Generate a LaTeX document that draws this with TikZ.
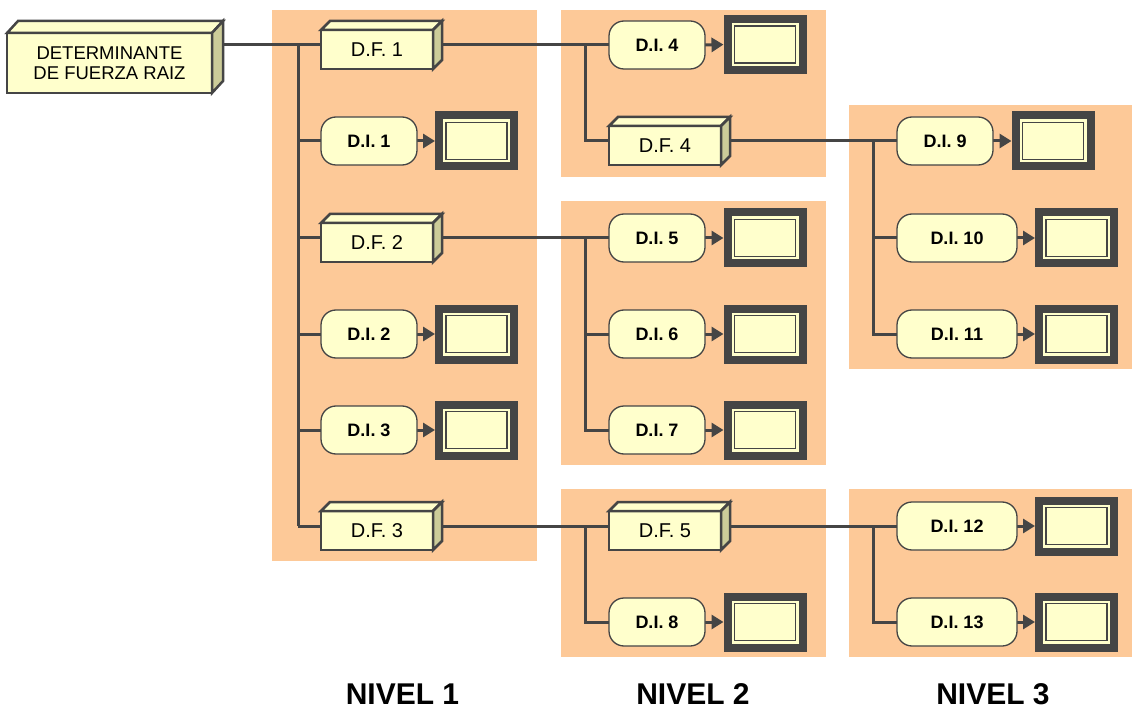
\documentclass[tikz,border=0pt]{standalone}
\usepackage{fontspec}
\setmainfont{Liberation Sans}
\usetikzlibrary{arrows.meta}
\definecolor{panel}{HTML}{FDC998}
\definecolor{nodefill}{HTML}{FFFFCC}
\definecolor{sidefill}{HTML}{CCCC99}
\definecolor{linec}{HTML}{454545}
\pgfdeclarelayer{panels}
\pgfdeclarelayer{lines}
\pgfsetlayers{panels,lines,main}
\newcommand\dfaces[3]{%
  \draw[facest, fill=nodefill] (#1.north west) -- ++(#2,-#3) -- ([shift={(#2,-#3)}]#1.north east) -- (#1.north east) -- cycle;
  \draw[facest, fill=sidefill] (#1.north east) -- ++(#2,-#3) -- ([shift={(#2,-#3)}]#1.south east) -- (#1.south east) -- cycle;}
\newcommand\outbox[2]{% name, position
  \node[obox] (#1) at #2 {};
  \draw[linec, line width=1.5pt] ([shift={(7,7)}]#1.north west) rectangle ([shift={(-7,-7)}]#1.south east);}
\begin{document}
\begin{tikzpicture}[x=1pt,y=-1pt,
  every node/.style={outer sep=0pt, inner sep=0pt},
  panelbox/.style={fill=panel, draw=none},
  facest/.style={draw=linec, line width=2.5pt, line join=miter},
  fbox/.style={draw=linec, line width=2.5pt, fill=nodefill, minimum width=112pt, minimum height=39pt, font=\fontsize{20}{22}\selectfont},
  rbox/.style={draw=linec, line width=2.5pt, fill=nodefill, minimum width=205pt, minimum height=60pt, align=center, font=\fontsize{18.5}{20}\selectfont},
  ibox/.style={draw=linec, line width=1.3pt, fill=nodefill, rounded corners=15pt, minimum width=96pt, minimum height=48pt, font=\bfseries\fontsize{18}{20}\selectfont},
  iwide/.style={ibox, minimum width=120pt},
  obox/.style={draw=linec, line width=8pt, fill=nodefill, minimum width=75pt, minimum height=51pt},
  conn/.style={draw=linec, line width=3pt},
  arr/.style={conn, -{Triangle[length=12pt,width=14pt]}, shorten >=4pt},
  lvl/.style={font=\bfseries\fontsize{30}{32}\selectfont},
]
\useasboundingbox (0,0) rectangle (1132,711);
% panels
\begin{pgfonlayer}{panels}
\fill[panelbox] (272,10) rectangle (537,561);
\fill[panelbox] (561,10) rectangle (826,177);
\fill[panelbox] (561,201) rectangle (826,465);
\fill[panelbox] (561,489) rectangle (826,657);
\fill[panelbox] (849,105) rectangle (1132,369);
\fill[panelbox] (849,489) rectangle (1132,657);
\end{pgfonlayer}
% root
\node[rbox] (root) at (109.5,63) {DETERMINANTE\\DE FUERZA RAIZ};
\dfaces{root}{11}{12}
% D.F. boxes
\node[fbox] (df1) at (377,49.5) {D.F. 1};
\node[fbox] (df2) at (377,242.5) {D.F. 2};
\node[fbox] (df3) at (377,530.5) {D.F. 3};
\node[fbox] (df4) at (665,145.5) {D.F. 4};
\node[fbox] (df5) at (665,530.5) {D.F. 5};
\foreach \n in {df1,df2,df3,df4,df5} {\dfaces{\n}{9}{9}}
% D.I. nodes
\node[ibox] (di1) at (369,141) {D.I. 1};
\node[ibox] (di2) at (369,334) {D.I. 2};
\node[ibox] (di3) at (369,430) {D.I. 3};
\node[ibox] (di4) at (657,45) {D.I. 4};
\node[ibox] (di5) at (657,238) {D.I. 5};
\node[ibox] (di6) at (657,334) {D.I. 6};
\node[ibox] (di7) at (657,430) {D.I. 7};
\node[ibox] (di8) at (657,622) {D.I. 8};
\node[ibox] (di9) at (945,141) {D.I. 9};
\node[iwide] (di10) at (957,238) {D.I. 10};
\node[iwide] (di11) at (957,334) {D.I. 11};
\node[iwide] (di12) at (957,526) {D.I. 12};
\node[iwide] (di13) at (957,622) {D.I. 13};
% output boxes
\outbox{o1}{(476.5,141)}
\outbox{o2}{(476.5,334)}
\outbox{o3}{(476.5,430)}
\outbox{o4}{(765,44.5)}
\outbox{o5}{(765,238)}
\outbox{o6}{(765,334)}
\outbox{o7}{(765,430)}
\outbox{o8}{(765,622)}
\outbox{o9}{(1053,141)}
\outbox{o10}{(1076.5,238)}
\outbox{o11}{(1076.5,334)}
\outbox{o12}{(1076.5,526)}
\outbox{o13}{(1076.5,622)}
% connector anchors
\coordinate (rootout) at ([shift={(11pt,18pt)}]root.east);
\foreach \n in {df1,df2,df3,df4,df5} {
  \coordinate (\n-in) at ([yshift=4.5pt]\n.west);
  \coordinate (\n-out) at ([shift={(9pt,4.5pt)}]\n.east);
}
\coordinate (t1) at (298,45);
\coordinate (t2a) at (585,45);
\coordinate (t2b) at (585,238);
\coordinate (t2c) at (585,526);
\coordinate (t3a) at (873,141);
\coordinate (t3b) at (873,526);
\begin{pgfonlayer}{lines}
% level 1
\draw[conn] (rootout) -- (df1-in);
\draw[conn] (t1) -- (t1 |- df3-in);
\foreach \n in {di1,di2,di3} {\draw[conn] (t1 |- \n.west) -- (\n.west);}
\draw[conn] (t1 |- df2-in) -- (df2-in);
\draw[conn] (t1 |- df3-in) -- (df3-in);
% level 2
\draw[conn] (df1-out) -- (di4.west);
\draw[conn] (t2a) -- (t2a |- df4-in) -- (df4-in);
\draw[conn] (df2-out) -- (di5.west);
\draw[conn] (t2b) -- (t2b |- di7.west) -- (di7.west);
\draw[conn] (t2b |- di6.west) -- (di6.west);
\draw[conn] (df3-out) -- (df5-in);
\draw[conn] (t2c) -- (t2c |- di8.west) -- (di8.west);
% level 3
\draw[conn] (df4-out) -- (di9.west);
\draw[conn] (t3a) -- (t3a |- di11.west) -- (di11.west);
\draw[conn] (t3a |- di10.west) -- (di10.west);
\draw[conn] (df5-out) -- (di12.west);
\draw[conn] (t3b) -- (t3b |- di13.west) -- (di13.west);
% arrows
\foreach \i in {1,...,13} {\draw[arr] (di\i.east) -- (o\i.west);}
\end{pgfonlayer}
% level labels
\node[lvl] (n1) at (402.5,694) {NIVEL 1};
\node[lvl] (n2) at (693,694) {NIVEL 2};
\node[lvl] (n3) at (993,694) {NIVEL 3};
\end{tikzpicture}
\end{document}
